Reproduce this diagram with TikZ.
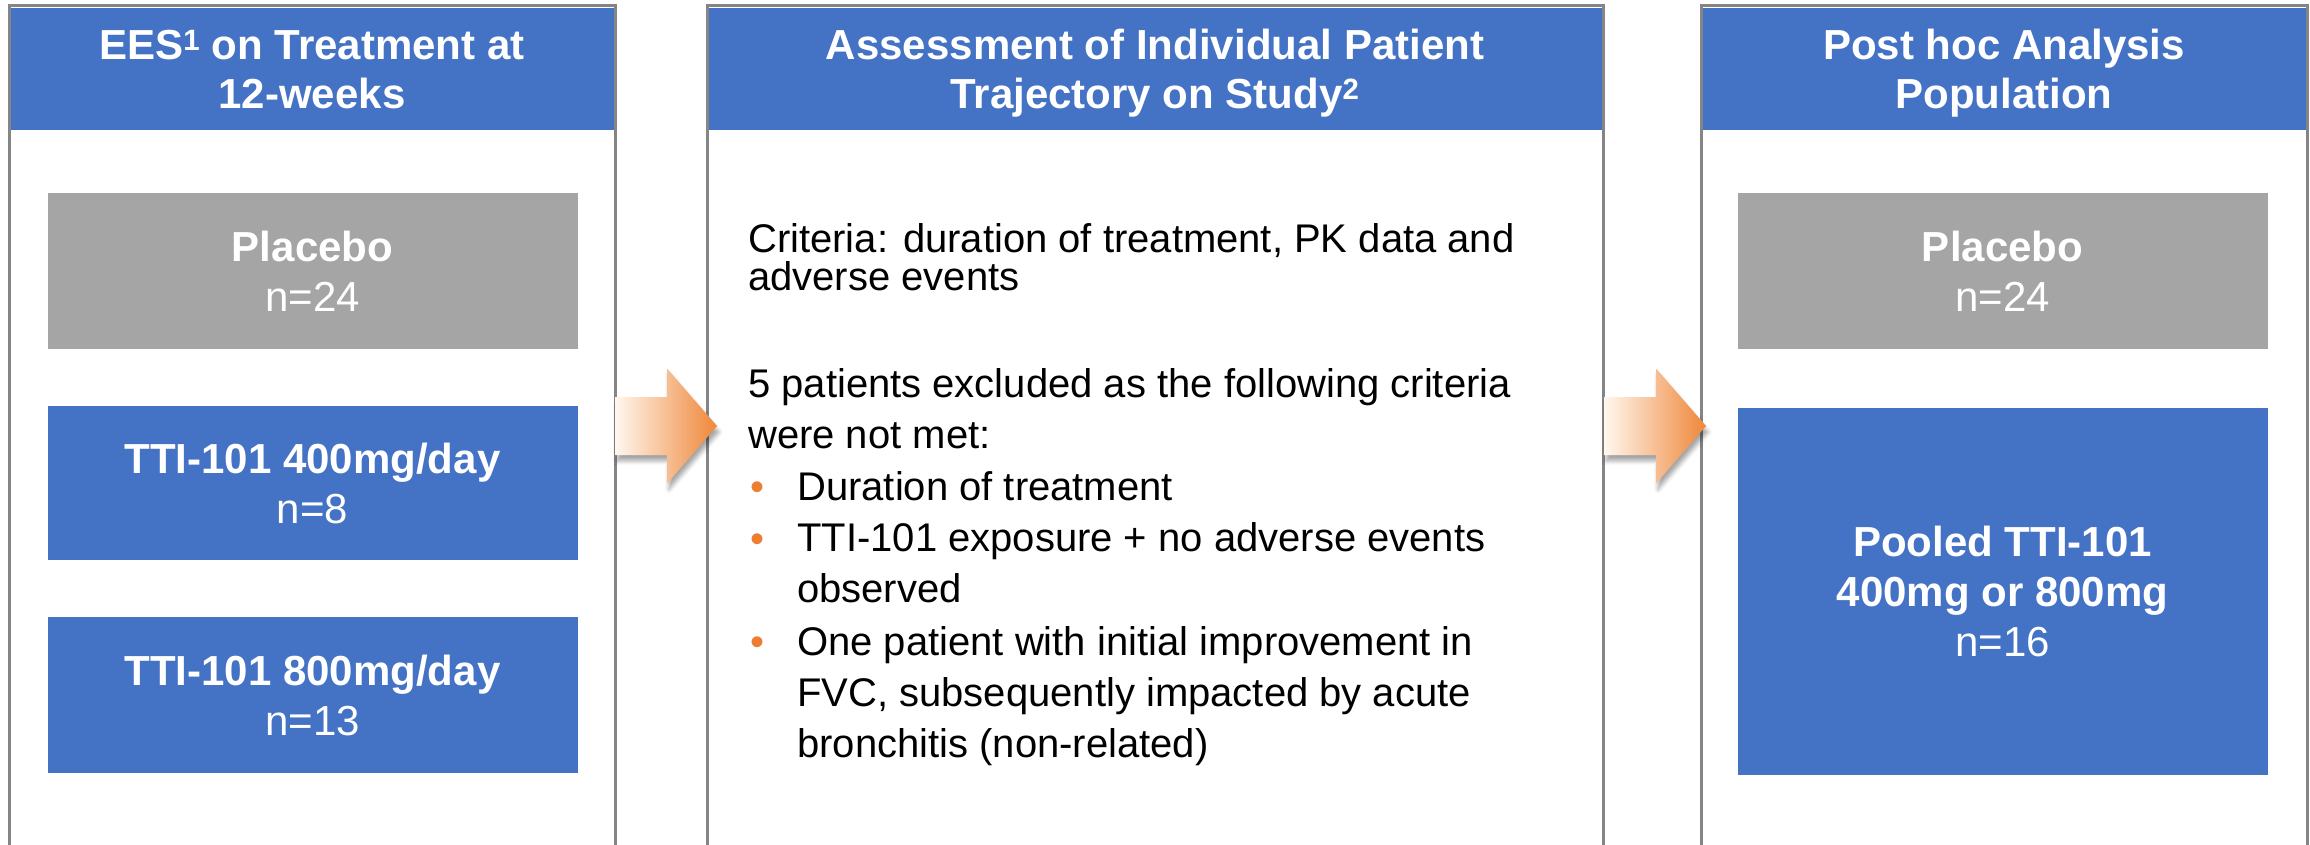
\documentclass[tikz,border=0pt]{standalone}
\usepackage{fontspec}
\setmainfont{Liberation Sans}
\usetikzlibrary{shadows.blur}

\definecolor{hblue}{HTML}{4472C4}
\definecolor{bgray}{HTML}{A5A5A5}
\definecolor{fgray}{HTML}{858585}
\definecolor{dorange}{HTML}{ED7D31}
\definecolor{alight}{HTML}{FFF7EE}
\definecolor{amid}{HTML}{FBC27A}
\definecolor{adark}{HTML}{EF873A}

\newcommand\bigtxt{\fontsize{42}{50}\selectfont}
\newcommand\bodytxt{\fontsize{40}{51}\selectfont}

\begin{document}
\begin{tikzpicture}[x=1pt,y=-1pt,
   frame/.style={draw=fgray,line width=3pt},
   bar/.style={fill=hblue,inner sep=0pt,minimum width=#1,minimum height=122pt},
   htext/.style={anchor=base,align=center,text=white,inner sep=0pt,font=\bfseries\fontsize{42}{49}\selectfont},
   grp/.style={fill=#1,text=white,align=center,inner sep=0pt,minimum width=530pt,font=\bigtxt},
   txt/.style={anchor=base west,align=left,inner sep=0pt,font=\bodytxt},
   dot/.style={anchor=base west,inner sep=0pt,text=dorange,font=\bodytxt},
   flow/.style={shading=axis,left color=alight,middle color=amid,right color=adark,
      blur shadow={shadow xshift=2pt,shadow yshift=-6pt,shadow blur radius=4pt,shadow opacity=35}}]

   \useasboundingbox (0,0) rectangle (2310,845);

   % three columns
   \draw[frame] (9,6) rectangle (615,900);
   \draw[frame] (707,6) rectangle (1603,900);
   \draw[frame] (1701,6) rectangle (2307,900);

   % headers (text nodes sit on the baseline of their last line)
   \node[bar=603pt] (h1) at (312,69) {};
   \node[bar=893pt] (h2) at (1155,69) {};
   \node[bar=603pt] (h3) at (2004,69) {};
   \node[htext] (t1) at (312,109) {EES\textsuperscript{1} on Treatment at\\12-weeks};
   \node[htext] (t2) at (1155,109) {Assessment of Individual Patient\\Trajectory on Study\textsuperscript{2}};
   \node[htext] (t3) at (2004,109) {Post hoc Analysis\\Population};

   % treatment arms
   \node[grp=bgray,minimum height=156pt] (pl1) at (312.5,271) {\textbf{Placebo}\\n=24};
   \node[grp=hblue,minimum height=154pt] (d400) at (312.5,483) {\textbf{TTI-101 400mg/day}\\n=8};
   \node[grp=hblue,minimum height=156pt] (d800) at (312.5,695) {\textbf{TTI-101 800mg/day}\\n=13};

   % criteria
   \node[txt,font=\fontsize{40}{38}\selectfont] (c1) at (748,290) {Criteria: duration of treatment, PK data and\\adverse events};
   \node[txt] (c2) at (748,448) {5 patients excluded as the following criteria\\were not met:};
   \node[dot] (b1) at (750,500) {\textbullet};
   \node[dot] (b2) at (750,552) {\textbullet};
   \node[dot] (b3) at (750,655) {\textbullet};
   \node[txt] (e1) at (797,500) {Duration of treatment};
   \node[txt] (e2) at (797,602) {TTI-101 exposure + no adverse events\\observed};
   \node[txt] (e3) at (797,757) {One patient with initial improvement in\\FVC, subsequently impacted by acute\\bronchitis (non-related)};

   % analysis population
   \node[grp=bgray,minimum height=156pt] (pl2) at (2002.5,271) {\textbf{Placebo}\\n=24};
   \node[grp=hblue,minimum height=367pt] (pool) at (2002.5,591) {\textbf{Pooled TTI-101}\\\textbf{400mg or 800mg}\\n=16};

   % block arrows
   \coordinate (a1) at (717,426);
   \coordinate (a2) at (1706,426);
   \path[flow] (a1) -- ++(-50,-57.5) -- ++(0,28.5) -- ++(-52,0) -- ++(0,58)
      -- ++(52,0) -- ++(0,28.5) -- cycle;
   \path[flow] (a2) -- ++(-50,-57.5) -- ++(0,28.5) -- ++(-52,0) -- ++(0,58)
      -- ++(52,0) -- ++(0,28.5) -- cycle;

\end{tikzpicture}
\end{document}
